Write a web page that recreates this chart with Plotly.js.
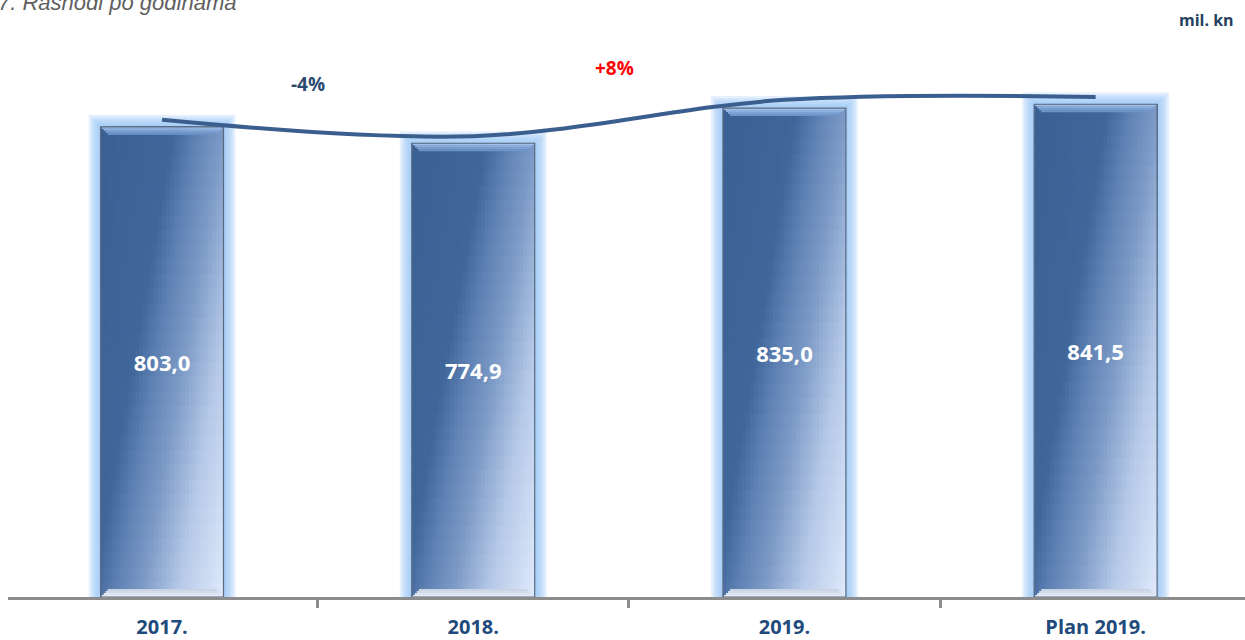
<!DOCTYPE html>
<html>
<head>
<meta charset="utf-8">
<script src="https://cdn.plot.ly/plotly-3.0.1.min.js"></script>
<style>
  html, body { margin: 0; padding: 0; background: #fff; }
  #plotArea { width: 1245px; height: 640px; }
</style>
</head>
<body>
<div id="plotArea"></div>
<script>
// chart data
var categories = ["2017.", "2018.", "2019.", "Plan 2019."];
var values = [803.0, 774.9, 835.0, 841.5];
var valueLabels = ["803,0", "774,9", "835,0", "841,5"];
// trend curve drawn a bit above the bar tops
var trendLevels = [815, 787, 849, 854];
var changeLabels = ["-4%", "+8%"];
var changeColors = ["#2B4A72", "#FF0000"];

var barWidth = 0.395;
var pxX = 311.2;   // px per category unit (approx)
var pxY = 0.5856;  // px per value unit (approx)
var traces = [];

function hex(c) {
  return [parseInt(c.substr(1, 2), 16), parseInt(c.substr(3, 2), 16), parseInt(c.substr(5, 2), 16)];
}
function mix(c1, c2, t) {
  var r = Math.round(c1[0] + (c2[0] - c1[0]) * t);
  var g = Math.round(c1[1] + (c2[1] - c1[1]) * t);
  var b = Math.round(c1[2] + (c2[2] - c1[2]) * t);
  return "rgb(" + r + "," + g + "," + b + ")";
}

// soft glow behind each bar
for (var g = 6; g >= 1; g--) {
  traces.push({
    type: "bar", x: categories,
    y: values.map(function (v) { return v + (g * 2) / pxY; }),
    width: barWidth + (g * 4) / pxX,
    marker: { color: "rgba(150,195,245,0.24)", line: { width: 0 } },
    hoverinfo: "skip", showlegend: false
  });
}

// diagonal gradient: dark top-left, light bottom-right
var stops = [
  [0.0, hex("#3B6094")],
  [0.6, hex("#40669A")],
  [0.78, hex("#5E81B3")],
  [1.0, hex("#7C9AC6")],
  [1.3, hex("#B6C9E8")],
  [1.7, hex("#E2ECFD")]
];
function gradColor(s) {
  if (s <= stops[0][0]) return mix(stops[0][1], stops[0][1], 0);
  for (var i = 1; i < stops.length; i++) {
    if (s <= stops[i][0]) {
      var a = stops[i - 1], b = stops[i];
      return mix(a[1], b[1], (s - a[0]) / (b[0] - a[0]));
    }
  }
  var last = stops[stops.length - 1][1];
  return mix(last, last, 0);
}
// each cell reaches to the bar's right edge and a bit below its band,
// the next cells drawn cover that overlap, so no white seams show
var nSlices = 32, nBands = 32;
var sliceW = barWidth / nSlices;
for (var k = 0; k < nSlices; k++) {
  for (var j = 0; j < nBands; j++) {
    var u = (k + 0.5) / nSlices;
    var vv = (j + 0.5) / nBands;
    var topFrac = 1 - j / nBands;
    var botFrac = Math.max(0, 1 - (j + 1.5) / nBands);
    traces.push({
      type: "bar", x: categories,
      y: values.map(function (v) { return v * (topFrac - botFrac); }),
      base: values.map(function (v) { return v * botFrac; }),
      width: barWidth - k * sliceW,
      offset: -barWidth / 2 + k * sliceW,
      marker: { color: gradColor(u + 0.67 * vv), line: { width: 0 } },
      hoverinfo: "skip", showlegend: false
    });
  }
}

// bevel at the top (trapezoid from narrowing strips)
var bevelColors = ["#A3C0E8", "#8EB0DE", "#7CA1D3", "#6E94C8"];
bevelColors.forEach(function (c, i) {
  var h = 2 / pxY;
  var inset = (2 * i + 1) / pxX;
  traces.push({
    type: "bar", x: categories,
    y: values.map(function () { return h; }),
    base: values.map(function (v) { return v - h * (i + 1); }),
    width: barWidth - 2 * inset,
    marker: { color: c, line: { width: 0 } },
    hoverinfo: "skip", showlegend: false
  });
});
// bevel at the bottom
var bottomColors = ["#C9D3E2", "#D3DCEA", "#DCE4F1", "#E2EAF6"];
bottomColors.forEach(function (c, i) {
  var h = 2 / pxY;
  var inset = (2 * (3 - i) + 1) / pxX;
  traces.push({
    type: "bar", x: categories,
    y: values.map(function () { return h; }),
    base: values.map(function () { return h * (3 - i); }),
    width: barWidth - 2 * inset,
    marker: { color: c, line: { width: 0 } },
    hoverinfo: "skip", showlegend: false
  });
});

// outline + value labels
traces.push({
  type: "bar", x: categories, y: values,
  width: barWidth,
  marker: { color: "rgba(0,0,0,0)", line: { color: "#5A6A7E", width: 1.2 } },
  text: valueLabels,
  textposition: "inside",
  insidetextanchor: "middle",
  textangle: 0,
  textfont: { family: "Open Sans, sans-serif", size: 22, color: "#FFFFFF", weight: "bold" },
  hoverinfo: "skip", showlegend: false
});

// trend curve
traces.push({
  type: "scatter", mode: "lines",
  x: categories, y: trendLevels,
  line: { color: "#3A5F8F", width: 4, shape: "spline", smoothing: 1 },
  hoverinfo: "skip", showlegend: false
});

var layout = {
  width: 1245, height: 640,
  margin: { l: 8, r: 0, t: 70, b: 43 },
  paper_bgcolor: "#FFFFFF",
  plot_bgcolor: "#FFFFFF",
  barmode: "overlay",
  showlegend: false,
  xaxis: {
    type: "category",
    range: [-0.495, 3.48],
    showgrid: false, zeroline: false,
    showline: true, linecolor: "#8C8C8C", linewidth: 3,
    ticks: "outside", tickson: "boundaries", ticklen: 8, tickwidth: 3, tickcolor: "#8C8C8C",
    ticklabelstandoff: 10,
    tickfont: { family: "Open Sans, sans-serif", size: 20, color: "#1F4A7C", weight: "bold" },
    fixedrange: true
  },
  yaxis: { visible: false, range: [0, 900], fixedrange: true },
  annotations: [
    {
      text: "7. Rashodi po godinama", xref: "paper", yref: "paper",
      x: -0.01, y: 1.1286, xanchor: "left", yanchor: "middle", showarrow: false,
      font: { family: "Liberation Sans, Arial, sans-serif", size: 22, color: "#5F5F5F", style: "italic" }
    },
    {
      text: "mil. kn", xref: "paper", yref: "paper",
      x: 0.9927, y: 1.095, xanchor: "right", yanchor: "middle", showarrow: false,
      font: { family: "Open Sans, sans-serif", size: 16, color: "#243F60", weight: "bold" }
    },
    {
      text: changeLabels[0], xref: "paper", yref: "paper", x: 0.2425, y: 0.9734,
      xanchor: "center", yanchor: "middle", showarrow: false,
      font: { family: "Open Sans, sans-serif", size: 19, color: changeColors[0], weight: "bold" }
    },
    {
      text: changeLabels[1], xref: "paper", yref: "paper", x: 0.4907, y: 1.0038,
      xanchor: "center", yanchor: "middle", showarrow: false,
      font: { family: "Open Sans, sans-serif", size: 19, color: changeColors[1], weight: "bold" }
    }
  ]
};

Plotly.newPlot("plotArea", traces, layout, { displayModeBar: false, staticPlot: true });
</script>
</body>
</html>
